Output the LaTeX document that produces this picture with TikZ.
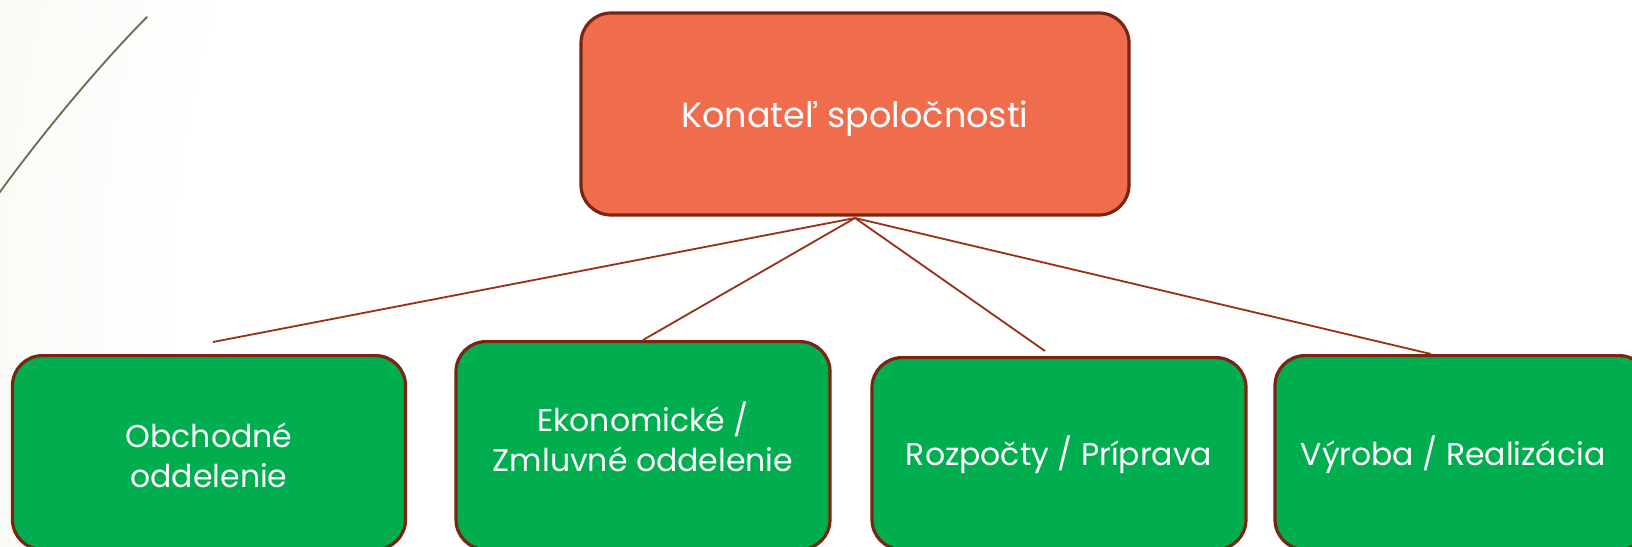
\documentclass[tikz,border=0pt]{standalone}
\usepackage{fontspec}
\setmainfont{Poppins}
\definecolor{orangefill}{HTML}{EF6D4D}
\definecolor{greenfill}{HTML}{00AE50}
\definecolor{boxedge}{HTML}{7A2412}
\definecolor{conn}{HTML}{9A2E16}
\definecolor{bgout}{HTML}{E2EACF}
\definecolor{deco}{HTML}{6E6850}
\pgfdeclareradialshading{bgshade}{\pgfpoint{0bp}{0bp}}{color(0bp)=(white); color(10bp)=(white); color(23bp)=(bgout); color(50bp)=(bgout)}
\tikzset{
  topbox/.style={draw=boxedge, line width=3.2pt, fill=orangefill, rounded corners=30pt,
    minimum width=548pt, minimum height=202pt, inner sep=0pt, text=white,
    font=\fontsize{35}{42}\selectfont},
  greenbox/.style={draw=boxedge, line width=3.2pt, fill=greenfill, rounded corners=30pt,
    minimum width=374pt, inner sep=0pt, anchor=north},
  greentext/.style={text=white, align=center, inner sep=0pt,
    font=\fontsize{31.5}{40}\selectfont},
  connector/.style={draw=conn, line width=1.8pt},
}
\begin{document}
\begin{tikzpicture}[x=1pt,y=-1pt]
\useasboundingbox (0,0) rectangle (1632,546);
\clip (0,0) rectangle (1632,546);
\shade[shading=bgshade] (1080,280) circle (2200pt);
% decorative stroke
\draw[deco, line width=1.8pt, line cap=round] (147,17) .. controls (112,52) and (52,120) .. (-3,196);
% top box
\node[topbox] (top) at (855,114) {\raisebox{-5pt}[\height][\depth]{Konateľ spoločnosti}};
\coordinate (hub) at (855,218);
% bottom boxes
\node[greenbox, minimum width=393pt, minimum height=194pt] (b1) at (209,354) {};
\node[greenbox, minimum height=208pt] (b2) at (643,340) {};
\node[greenbox, minimum height=192pt] (b3) at (1059,356) {};
\node[greenbox, minimum height=194pt] (b4) at (1462,354) {};
\node[greentext] (t1) at (209,455) {Obchodné\\oddelenie};
\node[greentext] (t2) at (643,437) {Ekonomické /\\Zmluvné oddelenie};
\node[greentext] (t3) at (1059,455) {Rozpočty / Príprava};
\node[greentext] (t4) at (1453,455) {Výroba / Realizácia};
% connector ends
\coordinate (e1) at (213,342);
\coordinate (e2) at (643,340);
\coordinate (e3) at (1045,351);
\coordinate (e4) at (1431,354);
\draw[connector] (hub) -- (e1);
\draw[connector] (hub) -- (e2);
\draw[connector] (hub) -- (e3);
\draw[connector] (hub) -- (e4);
\end{tikzpicture}
\end{document}
